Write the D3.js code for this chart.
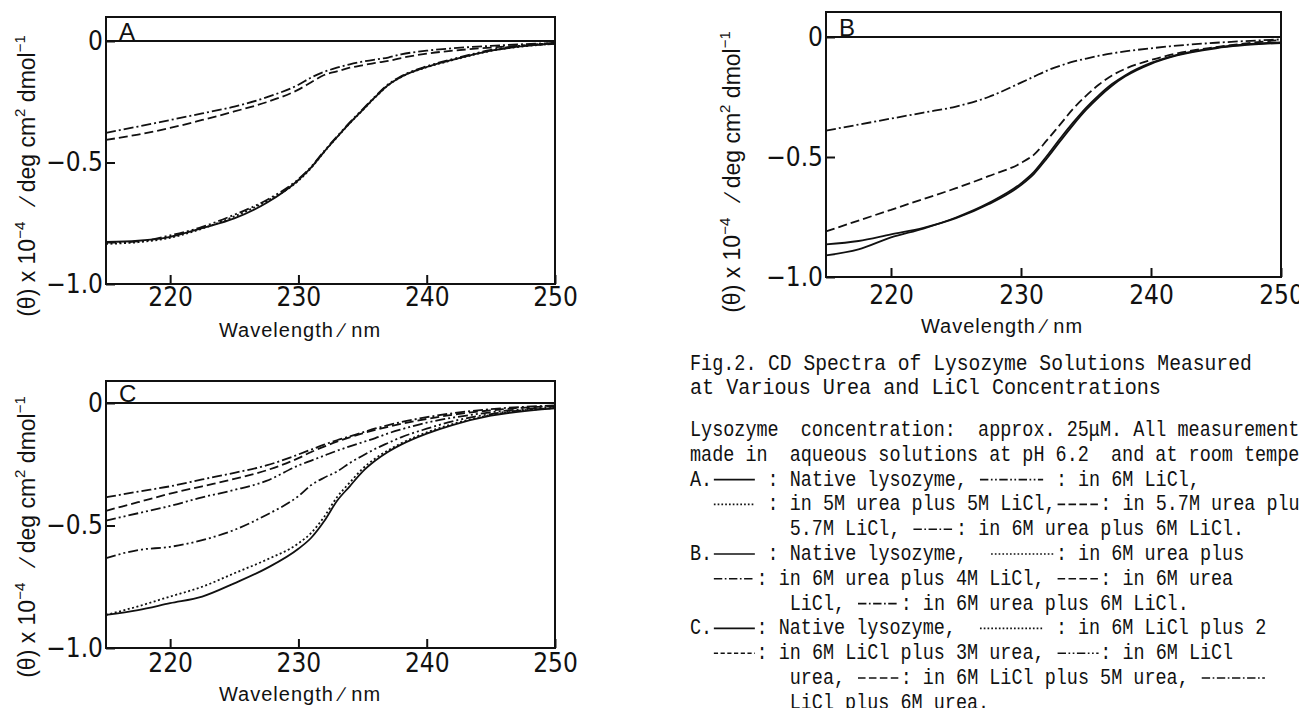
<!doctype html>
<html>
  <head>
    <meta charset="utf-8">
    <title>CD spectra of lysozyme</title>
    <script src="https://cdn.jsdelivr.net/npm/d3@7"></script>
    <style>
      html, body { margin:0; padding:0; background:#fff; overflow:hidden }
      svg { display:block }
      .tick text { font-family:"Liberation Sans Narrow","DejaVu Sans Condensed","Liberation Sans",sans-serif; font-size:26px; fill:#111 }
      .tick line { stroke:#111; stroke-width:2 }
      .lab { font-family:"Liberation Sans","DejaVu Sans",sans-serif; fill:#111 }
      .cap { font-family:"Liberation Mono","DejaVu Sans Mono",monospace; font-size:22px; fill:#111 }
    </style>
  </head>
  <body>
    <svg width="1299" height="708"></svg>
    <script>
      // wavelength grid (nm), shared by every curve
      var wl = [215, 217.5, 220, 222.5, 225, 227.5, 230, 231, 232, 233, 234, 235, 236, 237, 238, 240, 242, 245, 250];

      // panel A
      var aNative = [-0.827,-0.822,-0.806,-0.770,-0.730,-0.667,-0.572,-0.520,-0.456,-0.396,-0.338,-0.284,-0.230,-0.181,-0.148,-0.107,-0.078,-0.040,-0.010];
      var aLiCl6  = [-0.830,-0.825,-0.800,-0.765,-0.715,-0.655,-0.568,-0.517,-0.453,-0.393,-0.335,-0.281,-0.227,-0.178,-0.145,-0.104,-0.075,-0.037,-0.008];
      var aUL5    = [-0.835,-0.828,-0.810,-0.772,-0.722,-0.660,-0.575,-0.522,-0.457,-0.397,-0.339,-0.285,-0.231,-0.182,-0.149,-0.108,-0.079,-0.041,-0.011];
      var aUL57   = [-0.407,-0.385,-0.358,-0.325,-0.290,-0.252,-0.200,-0.170,-0.140,-0.125,-0.110,-0.100,-0.090,-0.082,-0.070,-0.052,-0.040,-0.027,-0.012];
      var aUL6    = [-0.378,-0.352,-0.325,-0.298,-0.270,-0.232,-0.180,-0.150,-0.127,-0.110,-0.096,-0.085,-0.076,-0.068,-0.055,-0.040,-0.030,-0.020,-0.008];

      // panel B (6M urea plus LiCl)
      var bNative = [-0.864,-0.850,-0.822,-0.795,-0.755,-0.697,-0.617,-0.570,-0.505,-0.435,-0.367,-0.304,-0.250,-0.203,-0.165,-0.112,-0.077,-0.047,-0.025];
      var bL2     = [-0.910,-0.885,-0.835,-0.798,-0.752,-0.692,-0.610,-0.562,-0.495,-0.424,-0.357,-0.295,-0.242,-0.196,-0.160,-0.108,-0.074,-0.044,-0.022];
      var bL5     = [-0.810,-0.765,-0.720,-0.675,-0.630,-0.580,-0.525,-0.490,-0.430,-0.365,-0.300,-0.245,-0.198,-0.160,-0.133,-0.096,-0.068,-0.042,-0.012];
      var bL6     = [-0.390,-0.365,-0.340,-0.315,-0.290,-0.250,-0.190,-0.165,-0.140,-0.120,-0.103,-0.090,-0.078,-0.068,-0.060,-0.047,-0.036,-0.024,-0.010];

      // panel C (6M LiCl plus urea)
      var cNative = [-0.865,-0.845,-0.817,-0.790,-0.736,-0.675,-0.595,-0.550,-0.483,-0.400,-0.340,-0.280,-0.235,-0.199,-0.170,-0.125,-0.090,-0.052,-0.022];
      var cU2     = [-0.865,-0.830,-0.790,-0.750,-0.695,-0.640,-0.573,-0.530,-0.465,-0.385,-0.325,-0.268,-0.226,-0.193,-0.165,-0.120,-0.086,-0.049,-0.020];
      var cU3     = [-0.633,-0.600,-0.587,-0.560,-0.518,-0.457,-0.380,-0.335,-0.305,-0.280,-0.245,-0.215,-0.187,-0.163,-0.140,-0.105,-0.075,-0.045,-0.020];
      var cU4     = [-0.480,-0.450,-0.420,-0.385,-0.355,-0.318,-0.255,-0.235,-0.215,-0.195,-0.177,-0.160,-0.143,-0.124,-0.108,-0.080,-0.060,-0.038,-0.015];
      var cU5     = [-0.440,-0.405,-0.370,-0.340,-0.310,-0.275,-0.225,-0.200,-0.178,-0.158,-0.140,-0.124,-0.110,-0.097,-0.085,-0.065,-0.048,-0.030,-0.012];
      var cU6     = [-0.385,-0.362,-0.340,-0.312,-0.285,-0.255,-0.210,-0.190,-0.170,-0.152,-0.136,-0.120,-0.104,-0.090,-0.078,-0.058,-0.042,-0.025,-0.010];

      var xTicks = [220, 230, 240, 250];
      var yTicks = [0, -0.5, -1];

      var DASH = {
        solid: null, dot: "2,2.5", dash: "9,4", dashdot: "10,3,2,3", dashdotdot: "10,3,2,3,2,3", short: "5,3"
      };

      var panels = [
        { name:"A", l:106, r:555, y0:41, y1:284, top:17, xpad:4, lx:300, ly:337, yl:35, ym:176,
          series:[[aNative,"solid"],[aLiCl6,"dashdotdot"],[aUL5,"dot"],[aUL57,"dash"],[aUL6,"dashdot"]] },
        { name:"B", l:826, r:1281, y0:37, y1:277, top:12, xpad:9, lx:1002, ly:333, yl:740, ym:172,
          series:[[bNative,"solid"],[bL2,"solid"],[bL5,"dash"],[bL6,"dashdot"]] },
        { name:"C", l:106, r:555, y0:403, y1:648, top:381, xpad:6, lx:300, ly:701, yl:35, ym:537,
          series:[[cNative,"solid"],[cU2,"dot"],[cU3,"dashdotdot"],[cU4,"dashdotdot"],[cU5,"dash"],[cU6,"dashdot"]] }
      ];

      var svg = d3.select("svg");

      panels.forEach(function(p) {
        var x = d3.scaleLinear().domain([215, 250]).range([p.l, p.r]);
        var y = d3.scaleLinear().domain([-1, 0]).range([p.y1, p.y0]);
        var g = svg.append("g");

        g.append("g").attr("transform", "translate(0," + p.y1 + ")")
          .call(d3.axisBottom(x).tickValues(xTicks).tickSize(-9).tickPadding(p.xpad).tickFormat(d3.format("d")))
          .call(function(a) { a.select(".domain").remove(); });

        g.append("g").attr("transform", "translate(" + p.l + ",0)")
          .call(d3.axisLeft(y).tickValues(yTicks).tickSize(-9).tickPadding(3)
            .tickFormat(function(d) { return d === 0 ? "0" : (d === -1 ? "\u22121.0" : "\u22120.5"); }))
          .call(function(a) { a.select(".domain").remove(); });

        g.append("rect").attr("x", p.l).attr("y", p.top)
          .attr("width", p.r - p.l).attr("height", p.y1 - p.top)
          .attr("fill", "none").attr("stroke", "#111").attr("stroke-width", 2);
        g.append("line").attr("x1", p.l).attr("x2", p.r)
          .attr("y1", y(0)).attr("y2", y(0)).attr("stroke", "#111").attr("stroke-width", 2);

        var line = d3.line().x(function(d, i) { return x(wl[i]); }).y(function(d) { return y(d); })
          .curve(d3.curveMonotoneX);
        p.series.forEach(function(s) {
          g.append("path").attr("d", line(s[0])).attr("fill", "none")
            .attr("stroke", "#111").attr("stroke-width", 1.8)
            .attr("stroke-dasharray", DASH[s[1]]);
        });

        g.append("text").attr("class", "lab").attr("x", p.l + 13).attr("y", y(0) - 1)
          .attr("font-size", 24).text(p.name);

        g.append("text").attr("class", "lab").attr("x", p.lx).attr("y", p.ly)
          .attr("text-anchor", "middle").attr("font-size", 20).attr("letter-spacing", 1)
          .text("Wavelength \u2215 nm");

        var t = g.append("text").attr("class", "lab").attr("font-size", 23)
          .attr("text-anchor", "middle").attr("xml:space", "preserve").style("white-space", "pre")
          .attr("transform", "translate(" + p.yl + "," + p.ym + ") rotate(-90)");
        t.append("tspan").text("(\u03b8) x 10");
        t.append("tspan").attr("dy", -10).attr("font-size", 15).text("\u22124");
        t.append("tspan").attr("dy", 10).text("   \u2215 deg cm");
        t.append("tspan").attr("dy", -10).attr("font-size", 15).text("2");
        t.append("tspan").attr("dy", 10).text(" dmol");
        t.append("tspan").attr("dy", -10).attr("font-size", 15).text("\u22121");
      });

      // caption, typewriter style; {kN} is a line sample N columns wide
      var capTitle = [[690, 370, 0.84, "Fig.2."], [768, 370, 0.894, "CD Spectra of Lysozyme Solutions Measured"],
                      [690, 394, 0.915, "at Various Urea and LiCl Concentrations"]];
      var capBody = [
        "Lysozyme  concentration:  approx. 25\u03bcM. All measurements",
        "made in  aqueous solutions at pH 6.2  and at room temperature",
        "A.{s4} : Native lysozyme, {m6} : in 6M LiCl,",
        "  {d4} : in 5M urea plus 5M LiCl,{a4}: in 5.7M urea plus",
        "         5.7M LiCl, {k4}: in 6M urea plus 6M LiCl.",
        "B.{s4} : Native lysozyme,  {d6}: in 6M urea plus",
        "  {k4}: in 6M urea plus 4M LiCl, {a4}: in 6M urea",
        "         LiCl, {k4}: in 6M urea plus 6M LiCl.",
        "C.{s4}: Native lysozyme,  {d6} : in 6M LiCl plus 2",
        "  {h4}: in 6M LiCl plus 3M urea, {m4}: in 6M LiCl",
        "         urea, {a4}: in 6M LiCl plus 5M urea, {k6}",
        "         LiCl plus 6M urea."
      ];
      var SYM = { s:"solid", d:"dot", a:"dash", k:"dashdot", m:"dashdotdot", h:"short" };
      var adv = 22 * 0.6;

      capTitle.forEach(function(c) {
        svg.append("text").attr("class", "cap")
          .attr("transform", "translate(" + c[0] + "," + c[1] + ") scale(" + c[2] + ",1)")
          .text(c[3]);
      });

      var cap = svg.append("g").attr("transform", "translate(690,0) scale(0.84,1)");
      function capLine(str, base) {
        var col = 0;
        str.split(/(\{[a-z]\d\})/).forEach(function(tok) {
          if (!tok) return;
          var m = tok.match(/^\{([a-z])(\d)\}$/);
          if (m) {
            var n = +m[2];
            cap.append("line").attr("x1", col * adv + 2).attr("x2", (col + n) * adv - 2)
              .attr("y1", base - 6).attr("y2", base - 6)
              .attr("stroke", "#111").attr("stroke-width", 1.6)
              .attr("stroke-dasharray", DASH[SYM[m[1]]]);
            col += n;
          } else {
            cap.append("text").attr("class", "cap").attr("x", col * adv).attr("y", base)
              .attr("xml:space", "preserve").style("white-space", "pre").text(tok);
            col += tok.length;
          }
        });
      }
      capBody.forEach(function(s, i) { capLine(s, 436 + i * 24.8); });
    </script>
  </body>
</html>
